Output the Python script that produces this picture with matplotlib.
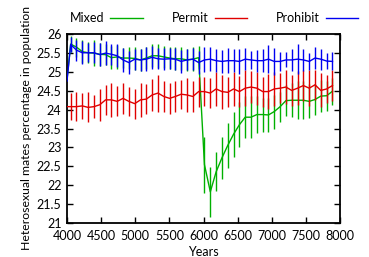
import matplotlib
matplotlib.use("Agg")
import matplotlib.pyplot as plt
from matplotlib.ticker import MultipleLocator, FuncFormatter

plt.rcParams['font.family'] = ['Lato', 'DejaVu Sans']

# sample years (one point every ~85 years), plus the starting point at 4000
start_year = 4000
years = [4054, 4139, 4224, 4310, 4395, 4480, 4565, 4651, 4736, 4821,
         4906, 4992, 5077, 5162, 5247, 5333, 5418, 5503, 5588, 5673,
         5759, 5844, 5929, 6014, 6100, 6185, 6270, 6355, 6441, 6526,
         6611, 6696, 6782, 6867, 6952, 7037, 7123, 7208, 7293, 7378,
         7464, 7549, 7634, 7719, 7805, 7890]

mixed_start = 24.8
mixed = [25.74, 25.66, 25.54, 25.51, 25.5, 25.47, 25.46, 25.38, 25.4, 25.37,
         25.37, 25.36, 25.32, 25.37, 25.43, 25.43, 25.4, 25.37, 25.35, 25.35,
         25.32, 25.34, 25.38, 22.54, 21.82, 22.35, 22.72, 23.05, 23.35, 23.6,
         23.8, 23.8, 23.87, 23.87, 23.86, 23.95, 24.08, 24.24, 24.25, 24.25,
         24.25, 24.22, 24.27, 24.36, 24.37, 24.49]
mixed_err = [0.22, 0.25, 0.3, 0.28, 0.35, 0.3, 0.28, 0.3, 0.32, 0.27,
             0.28, 0.3, 0.3, 0.28, 0.3, 0.32, 0.3, 0.28, 0.3, 0.3,
             0.3, 0.32, 0.3, 0.74, 0.66, 0.52, 0.55, 0.6, 0.6, 0.6,
             0.55, 0.55, 0.5, 0.45, 0.45, 0.45, 0.4, 0.42, 0.45, 0.5,
             0.5, 0.45, 0.4, 0.42, 0.4, 0.36]

permit_start = 24.08
permit = [24.08, 24.08, 24.1, 24.06, 24.08, 24.13, 24.26, 24.26, 24.22, 24.3,
          24.22, 24.16, 24.26, 24.28, 24.39, 24.44, 24.35, 24.3, 24.35, 24.41,
          24.39, 24.35, 24.48, 24.48, 24.44, 24.55, 24.48, 24.46, 24.55, 24.48,
          24.57, 24.6, 24.57, 24.48, 24.48, 24.55, 24.57, 24.6, 24.51, 24.57,
          24.64, 24.57, 24.66, 24.51, 24.55, 24.64]
permit_err = [0.36, 0.38, 0.35, 0.4, 0.3, 0.42, 0.4, 0.45, 0.4, 0.42,
              0.38, 0.4, 0.45, 0.4, 0.42, 0.49, 0.4, 0.42, 0.4, 0.38,
              0.44, 0.42, 0.4, 0.38, 0.4, 0.44, 0.45, 0.4, 0.45, 0.42,
              0.48, 0.42, 0.44, 0.4, 0.46, 0.45, 0.4, 0.45, 0.42, 0.45,
              0.42, 0.48, 0.4, 0.45, 0.38, 0.42]

prohibit_start = 24.76
prohibit = [25.73, 25.58, 25.51, 25.51, 25.51, 25.46, 25.5, 25.47, 25.43, 25.32,
            25.25, 25.34, 25.32, 25.34, 25.39, 25.35, 25.34, 25.35, 25.34, 25.28,
            25.32, 25.34, 25.25, 25.32, 25.34, 25.3, 25.28, 25.3, 25.3, 25.28,
            25.34, 25.32, 25.3, 25.3, 25.34, 25.28, 25.28, 25.32, 25.32, 25.34,
            25.32, 25.28, 25.37, 25.34, 25.29, 25.28]
prohibit_err = [0.2, 0.28, 0.3, 0.25, 0.28, 0.3, 0.32, 0.28, 0.3, 0.32,
                0.3, 0.28, 0.3, 0.32, 0.3, 0.28, 0.3, 0.28, 0.3, 0.3,
                0.28, 0.3, 0.3, 0.33, 0.32, 0.3, 0.3, 0.33, 0.3, 0.33,
                0.29, 0.25, 0.29, 0.3, 0.38, 0.35, 0.26, 0.2, 0.3, 0.39,
                0.3, 0.23, 0.29, 0.28, 0.22, 0.24]

labels = ["Mixed", "Permit", "Prohibit"]
colors = ["#00b000", "#e00000", "#0000f0"]

W, H = 369, 257
fig = plt.figure(figsize=(W / 100, H / 100), dpi=100)
ax = fig.add_axes([67 / W, (H - 222.7) / H, (340 - 67) / W, (222.7 - 34.3) / H])

series = [(mixed_start, mixed, mixed_err), (permit_start, permit, permit_err),
          (prohibit_start, prohibit, prohibit_err)]
handles = []
for (s0, vals, errs), lab, col, z in zip(series, labels, colors, [2, 3, 4]):
    ax.errorbar(years, vals, yerr=errs, fmt='none', ecolor=col, elinewidth=1.0,
                capsize=0, zorder=z)
    h, = ax.plot([start_year] + years, [s0] + vals, color=col, lw=1.0, zorder=z + 0.5,
                 label=lab)
    handles.append(h)

ax.set_xlim(4000, 8000)
ax.set_ylim(21, 26)
ax.xaxis.set_major_locator(MultipleLocator(500))
ax.yaxis.set_major_locator(MultipleLocator(0.5))
ax.yaxis.set_major_formatter(FuncFormatter(lambda v, p: f"{v:g}"))
ax.tick_params(direction='in', length=4, width=1, top=True, right=True,
               labelsize=9, colors='black')
ax.tick_params(axis='x', pad=5)
ax.tick_params(axis='y', pad=4)
for sp in ax.spines.values():
    sp.set_linewidth(1.3)

ax.set_xlabel("Years", fontsize=9, labelpad=3)
ax.set_ylabel("Heterosexual mates percentage in population", fontsize=8.8, labelpad=3)

leg = fig.legend(handles=handles, labels=labels, ncol=3, loc='center',
                 bbox_to_anchor=(214 / W, 1 - 18 / H), frameon=False, markerfirst=False,
                 handlelength=2.6, columnspacing=2.3, handletextpad=0.5, fontsize=9)

fig.savefig("out.png", dpi=100)
